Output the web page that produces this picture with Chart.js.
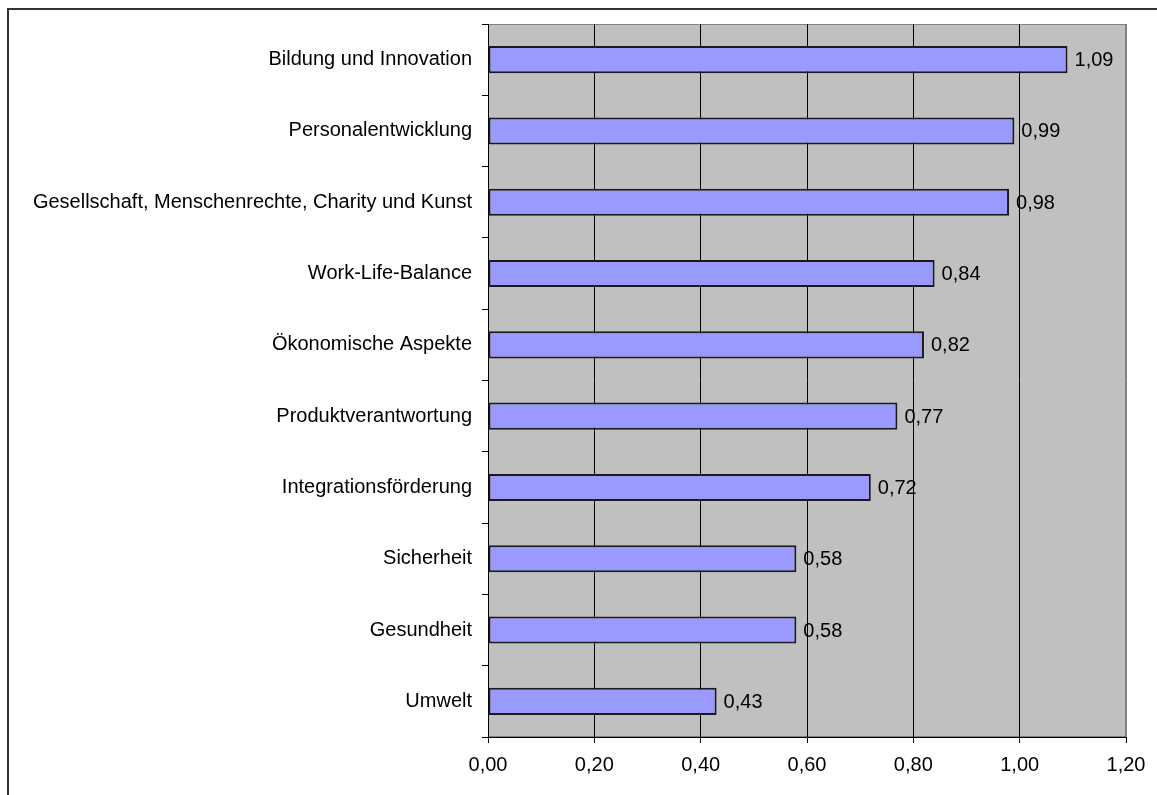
<!DOCTYPE html>
<html lang="de">
<head>
<meta charset="utf-8">
<title>Themenschwerpunkte</title>
<script src="https://cdn.jsdelivr.net/npm/chart.js@4.4.1/dist/chart.umd.min.js"></script>
<style>
  html, body { margin: 0; padding: 0; background: #fff; overflow: hidden; }
  #frame {
    position: absolute; left: 7px; top: 8px;
    width: 1300px; height: 900px;
    border-left: 2px solid #333; border-top: 2px solid #333;
  }
  #wrap { position: absolute; left: 0; top: 0; width: 1157px; height: 795px; }
</style>
</head>
<body>
<div id="frame"></div>
<div id="wrap"><canvas id="chart"></canvas></div>
<script>
const categories = [
    'Bildung und Innovation',
    'Personalentwicklung',
    'Gesellschaft, Menschenrechte, Charity und Kunst',
    'Work-Life-Balance',
    'Ökonomische Aspekte',
    'Produktverantwortung',
    'Integrationsförderung',
    'Sicherheit',
    'Gesundheit',
    'Umwelt'
];
const values = [1.09, 0.99, 0.98, 0.84, 0.82, 0.77, 0.72, 0.58, 0.58, 0.43];
const xTicks = [0, 0.2, 0.4, 0.6, 0.8, 1.0, 1.2];

const FONT = { family: '"Liberation Sans", Arial, sans-serif', size: 20 };
const fmt = v => v.toFixed(2).replace('.', ',');

// grey plot area with a thin frame
const plotBackground = {
    id: 'plotBackground',
    beforeDraw(chart) {
        const { ctx, chartArea: a } = chart;
        ctx.save();
        ctx.fillStyle = '#c0c0c0';
        ctx.fillRect(a.left, a.top, a.right - a.left, a.bottom - a.top);
        ctx.strokeStyle = '#808080';
        ctx.lineWidth = 1;
        ctx.strokeRect(a.left + 0.5, a.top + 0.5, a.right - a.left - 1, a.bottom - a.top - 1);
        ctx.restore();
    }
};

// value text right of each bar
const valueLabels = {
    id: 'valueLabels',
    afterDatasetsDraw(chart) {
        const { ctx } = chart;
        const meta = chart.getDatasetMeta(0);
        ctx.save();
        ctx.font = `${FONT.size}px ${FONT.family}`;
        ctx.fillStyle = '#000';
        ctx.textBaseline = 'middle';
        ctx.textAlign = 'left';
        meta.data.forEach((bar, i) => {
            ctx.fillText(fmt(values[i]), bar.x + 7, bar.y + 1);
        });
        ctx.restore();
    }
};

new Chart(document.getElementById('chart'), {
    type: 'bar',
    data: {
        labels: categories,
        datasets: [{
            data: values,
            backgroundColor: '#9999ff',
            borderColor: '#1a1a1a',
            borderWidth: 2,
            borderSkipped: false,
            barPercentage: 0.38,
            categoryPercentage: 1
        }]
    },
    options: {
        indexAxis: 'y',
        responsive: true,
        maintainAspectRatio: false,
        animation: false,
        layout: { padding: { top: 24, right: 31, bottom: 0, left: 0 } },
        plugins: {
            legend: { display: false },
            tooltip: { enabled: false }
        },
        scales: {
            x: {
                min: 0,
                max: 1.2,
                afterBuildTicks: scale => { scale.ticks = xTicks.map(v => ({ value: v })); },
                afterFit: scale => { scale.height = 58; },
                ticks: {
                    color: '#000',
                    font: FONT,
                    padding: 10,
                    maxRotation: 0,
                    callback: v => fmt(v)
                },
                grid: {
                    color: c => (c.tick && c.tick.value === 1.2) ? '#808080' : '#000',
                    lineWidth: 1,
                    tickLength: 6,
                    tickColor: '#000'
                },
                border: { color: '#000', width: 1 }
            },
            y: {
                afterFit: scale => { scale.width = 488; },
                ticks: {
                    color: '#000',
                    font: FONT,
                    padding: 10
                },
                grid: {
                    drawOnChartArea: false,
                    offset: true,
                    tickLength: 6,
                    color: '#000'
                },
                border: { color: '#000', width: 1 }
            }
        }
    },
    plugins: [plotBackground, valueLabels]
});
</script>
</body>
</html>
